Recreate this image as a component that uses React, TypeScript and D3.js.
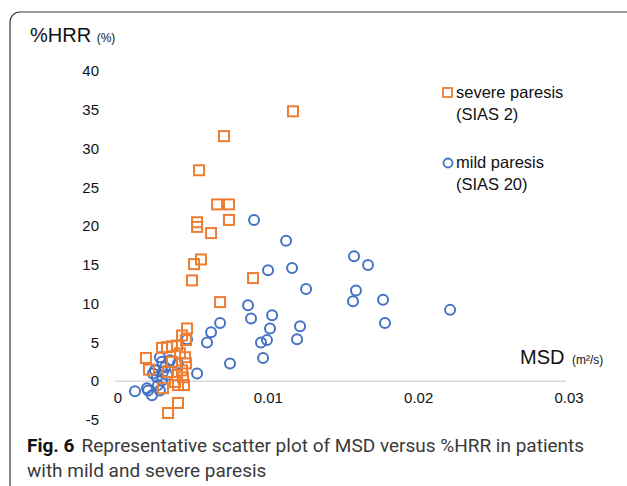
import React from 'react';
import * as d3 from 'd3';

// severe paresis (SIAS 2): [MSD, %HRR]
const severeMsd = [
  0.01184, 0.00725, 0.00559, 0.00679, 0.00758, 0.00546, 0.00546, 0.00758, 0.00639, 0.00572,
  0.00526, 0.00512, 0.00918, 0.00699, 0.00479, 0.00446, 0.00472, 0.00206, 0.00226, 0.00313,
  0.00346, 0.00379, 0.00413, 0.00432, 0.00466, 0.00472, 0.00446, 0.00452, 0.00413, 0.00399,
  0.00419, 0.00319, 0.00353, 0.00419, 0.00379, 0.00353, 0.00459,
];
const severeHrr = [
  34.8, 31.6, 27.2, 22.8, 22.8, 20.5, 19.9, 20.8, 19.1, 15.7,
  15.1, 13.0, 13.3, 10.2, 6.8, 5.9, 5.3, 3.0, 1.5, 4.3,
  4.4, 4.5, 4.6, 3.6, 3.1, 2.3, 1.4, 0.5, 0.8, -0.1,
  -0.5, -0.9, -4.1, -2.8, 2.5, 1.2, -0.5,
];

// mild paresis (SIAS 20)
const mildMsd = [
  0.00925, 0.01138, 0.0159, 0.01683, 0.01018, 0.01178, 0.01271, 0.01603, 0.01583, 0.01783,
  0.02229, 0.00885, 0.00905, 0.01045, 0.01031, 0.01231, 0.01796, 0.00971, 0.01011, 0.01211,
  0.00699, 0.00639, 0.00612, 0.00479, 0.00765, 0.00985, 0.00546, 0.00133, 0.0022, 0.00246,
  0.00299, 0.00366, 0.00419, 0.00333, 0.00253, 0.00279, 0.00313, 0.00286, 0.00299, 0.00319,
  0.00346, 0.00313, 0.00213, 0.00266,
];
const mildHrr = [
  20.8, 18.1, 16.1, 15.0, 14.3, 14.6, 11.9, 11.7, 10.3, 10.5,
  9.2, 9.8, 8.1, 8.5, 6.8, 7.1, 7.5, 5.0, 5.3, 5.4,
  7.5, 6.3, 5.0, 5.4, 2.3, 3.0, 1.0, -1.3, -1.2, -1.8,
  3.1, 2.7, 2.3, 1.8, 1.0, 0.5, 0.1, -0.5, -1.2, 1.2,
  0.8, 2.5, -0.9, 1.4,
];

const yTicks = [-5, 0, 5, 10, 15, 20, 25, 30, 35, 40];
const xTicks = [0, 0.01, 0.02, 0.03];
const xTickLabels = ['0', '0.01', '0.02', '0.03'];

const ORANGE = '#ED7D31';
const BLUE = '#4472C4';
const FONT = '"Liberation Sans", Arial, sans-serif';
const CAPTION_FONT = 'Roboto, "Noto Sans", sans-serif';

export default function App() {
  const x = d3.scaleLinear().domain([0, 0.03]).range([115, 566]);
  const y = d3.scaleLinear().domain([-5, 40]).range([420, 71]);

  const severe = severeMsd.map((m, i) => ({ m, h: severeHrr[i] }));
  const mild = mildMsd.map((m, i) => ({ m, h: mildHrr[i] }));

  return (
    <div style={{ position: 'absolute', left: 0, top: 0 }}>
      <svg width={627} height={486} style={{ display: 'block', background: '#fff' }}>
        {/* figure frame */}
        <path d="M10,486 V22 A10,10 0 0 1 20,12 H627" fill="none" stroke="#3a3a3a" strokeWidth={1.2} />

        {/* axis titles */}
        <text x={30} y={42} fontFamily={FONT} fontSize={20} fill="#111">
          %HRR <tspan fontSize={12}>(%)</tspan>
        </text>
        <text x={520} y={364} fontFamily={FONT} fontSize={20} fill="#111">
          MSD <tspan fontSize={12} dx={2}>(m²/s)</tspan>
        </text>

        {/* zero line */}
        <line x1={x(0)} x2={x(0.03)} y1={y(0)} y2={y(0)} stroke="#d9d9d9" strokeWidth={1.5} />

        {/* y tick labels */}
        {yTicks.map(t => (
          <text key={t} x={99} y={y(t)} dy="0.35em" textAnchor="end" fontFamily={FONT} fontSize={15} fill="#111">
            {t}
          </text>
        ))}

        {/* x tick labels */}
        {xTicks.map((t, i) => (
          <text key={t} x={x(t) + 3} y={y(0) + 22} textAnchor="middle" fontFamily={FONT} fontSize={15} fill="#111">
            {xTickLabels[i]}
          </text>
        ))}

        {/* mild paresis */}
        {mild.map((d, i) => (
          <circle key={'m' + i} cx={x(d.m)} cy={y(d.h)} r={5} fill="none" stroke={BLUE} strokeWidth={2} />
        ))}

        {/* severe paresis */}
        {severe.map((d, i) => (
          <rect key={'s' + i} x={x(d.m) - 5} y={y(d.h) - 5} width={10} height={10} fill="none" stroke={ORANGE} strokeWidth={2} />
        ))}

        {/* legend */}
        <rect x={443} y={88} width={9} height={9} fill="none" stroke={ORANGE} strokeWidth={1.8} />
        <text x={456} y={98} fontFamily={FONT} fontSize={16.5} fill="#111">severe paresis</text>
        <text x={456} y={120} fontFamily={FONT} fontSize={16.5} fill="#111">(SIAS 2)</text>
        <circle cx={448} cy={163} r={4.5} fill="none" stroke={BLUE} strokeWidth={1.8} />
        <text x={456} y={168} fontFamily={FONT} fontSize={16.5} fill="#111">mild paresis</text>
        <text x={456} y={190} fontFamily={FONT} fontSize={16.5} fill="#111">(SIAS 20)</text>

        {/* caption */}
        <text x={27} y={452} fontFamily={CAPTION_FONT} fontSize={19} fill="#3a3a3a">
          <tspan fontWeight="bold" fill="#111">Fig. 6</tspan>
          <tspan dx={7}>Representative scatter plot of MSD versus %HRR in patients</tspan>
        </text>
        <text x={27} y={477} fontFamily={CAPTION_FONT} fontSize={19} fill="#3a3a3a">
          with mild and severe paresis
        </text>
      </svg>
    </div>
  );
}
